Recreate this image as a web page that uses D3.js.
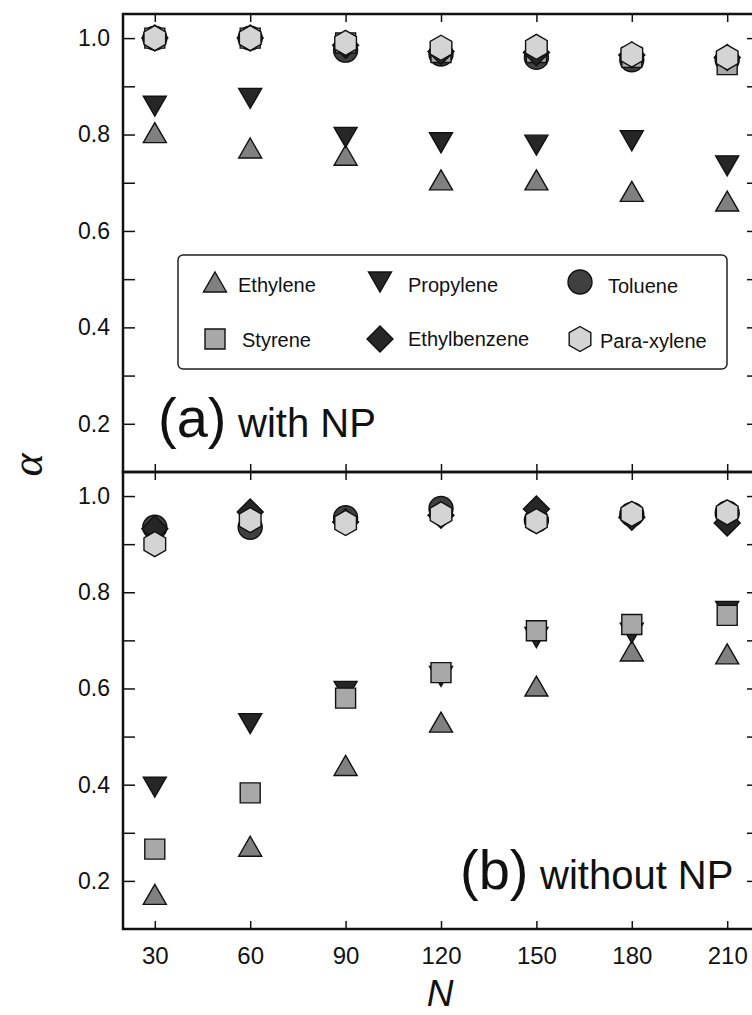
<!DOCTYPE html>
<html>
<head>
<meta charset="utf-8">
<script src="https://cdn.jsdelivr.net/npm/d3@7"></script>
<style>
    body { margin: 0; background: #fff; }
    text { font-family: 'Liberation Sans', Arial, sans-serif; fill: #111; }
</style>
</head>
<body>
<div id="chart"></div>
<script>
// Chain length values on the x axis
const nValues = [30, 60, 90, 120, 150, 180, 210];
const yTickValues = [0.2, 0.3, 0.4, 0.5, 0.6, 0.7, 0.8, 0.9, 1.0];

// (a) with NP
const ethyleneWith = [0.804, 0.772, 0.757, 0.706, 0.706, 0.682, 0.662];
const propyleneWith = [0.859, 0.875, 0.794, 0.783, 0.778, 0.787, 0.735];
const tolueneWith = [1.0, 1.0, 0.975, 0.967, 0.96, 0.955, 0.955];
const styreneWith = [1.0, 1.0, 0.99, 0.97, 0.97, 0.96, 0.945];
const ethylbenzeneWith = [1.0, 1.0, 0.985, 0.972, 0.97, 0.965, 0.96];
const paraxyleneWith = [1.0, 1.0, 0.99, 0.98, 0.982, 0.966, 0.96];

// (b) without NP
const ethyleneWithout = [0.172, 0.272, 0.44, 0.53, 0.605, 0.678, 0.672];
const propyleneWithout = [0.395, 0.527, 0.594, 0.625, 0.706, 0.715, 0.76];
const tolueneWithout = [0.935, 0.935, 0.955, 0.974, 0.95, 0.962, 0.965];
const styreneWithout = [0.266, 0.383, 0.58, 0.633, 0.72, 0.733, 0.752];
const ethylbenzeneWithout = [0.932, 0.967, 0.946, 0.96, 0.973, 0.956, 0.944];
const paraxyleneWithout = [0.90, 0.95, 0.944, 0.962, 0.948, 0.963, 0.966];

const seriesNames = ['Ethylene', 'Propylene', 'Toluene', 'Styrene', 'Ethylbenzene', 'Para-xylene'];

// Marker look for each series
const markerStyle = {
    'Ethylene':     { shape: 'up',      fill: '#808080' },
    'Propylene':    { shape: 'down',    fill: '#262626' },
    'Toluene':      { shape: 'circle',  fill: '#404040' },
    'Styrene':      { shape: 'square',  fill: '#a8a8a8' },
    'Ethylbenzene': { shape: 'diamond', fill: '#262626' },
    'Para-xylene':  { shape: 'hexagon', fill: '#d4d4d4' }
};

function markerPath(shape) {
    switch (shape) {
        case 'up': return 'M0,-10L11.5,10L-11.5,10Z';
        case 'down': return 'M-11.5,-10L11.5,-10L0,10Z';
        case 'square': return 'M-10,-10h20v20h-20Z';
        case 'diamond': return 'M0,-13L13,0L0,13L-13,0Z';
        case 'hexagon': {
            const r = 12.5;
            const pts = d3.range(6).map(i => {
                const a = (-90 + i * 60) * Math.PI / 180;
                return [r * Math.cos(a), r * Math.sin(a)];
            });
            return 'M' + pts.map(p => p.join(',')).join('L') + 'Z';
        }
        default: return d3.symbol(d3.symbolCircle, Math.PI * 12 * 12)();
    }
}

function buildSeries(values) {
    return seriesNames.map((name, i) => ({
        name,
        points: nValues.map((n, j) => ({ n, v: values[i][j] }))
    }));
}

const panels = [
    {
        top: 14, bottom: 472, tag: '(a)', caption: 'with NP',
        tagX: 158, captionX: 238, baseline: 437,
        series: buildSeries([ethyleneWith, propyleneWith, tolueneWith, styreneWith, ethylbenzeneWith, paraxyleneWith])
    },
    {
        top: 472, bottom: 929, tag: '(b)', caption: 'without NP',
        tagX: 460, captionX: 540, baseline: 889,
        series: buildSeries([ethyleneWithout, propyleneWithout, tolueneWithout, styreneWithout, ethylbenzeneWithout, paraxyleneWithout])
    }
];

const width = 752;
const height = 1015;

const svg = d3.select('#chart')
    .append('svg')
    .attr('width', width)
    .attr('height', height)
    .style('background', '#fff');

const x = d3.scaleLinear().domain([20, 220]).range([123, 759]);

panels.forEach((panel, pi) => {
    const y = d3.scaleLinear().domain([0.1, 1.05]).range([panel.bottom, panel.top]);
    const g = svg.append('g');

    // Left axis: inward ticks, labels every 0.2
    g.append('g')
        .attr('transform', `translate(${x.range()[0]},0)`)
        .call(d3.axisLeft(y)
            .tickValues(yTickValues)
            .tickSizeInner(-12)
            .tickSizeOuter(0)
            .tickPadding(13)
            .tickFormat(d => Math.round(d * 10) % 2 === 0 ? d3.format('.1f')(d) : ''))
        .call(a => a.select('.domain').remove())
        .call(a => a.selectAll('line').attr('stroke', '#111').attr('stroke-width', 1.5))
        .call(a => a.selectAll('text')
            .style('font-family', "'Liberation Sans', Arial, sans-serif")
            .style('font-size', '23px')
            .attr('fill', '#111'));

    // Right axis ticks only
    g.append('g')
        .attr('transform', `translate(${x.range()[1]},0)`)
        .call(d3.axisLeft(y).tickValues(yTickValues).tickSize(12).tickFormat(''))
        .call(a => a.select('.domain').remove())
        .call(a => a.selectAll('line').attr('stroke', '#111').attr('stroke-width', 1.5));

    // Top and bottom ticks, pointing into the panel
    g.append('g')
        .attr('transform', `translate(0,${panel.top})`)
        .call(d3.axisTop(x).tickValues(nValues).tickSizeInner(-8).tickSizeOuter(0).tickFormat(''))
        .call(a => a.select('.domain').remove())
        .call(a => a.selectAll('line').attr('stroke', '#111').attr('stroke-width', 1.5));

    const isLast = pi === panels.length - 1;
    g.append('g')
        .attr('transform', `translate(0,${panel.bottom})`)
        .call(d3.axisBottom(x)
            .tickValues(nValues)
            .tickSizeInner(-8)
            .tickSizeOuter(0)
            .tickPadding(18)
            .tickFormat(d => isLast ? d : ''))
        .call(a => a.select('.domain').remove())
        .call(a => a.selectAll('line').attr('stroke', '#111').attr('stroke-width', 1.5))
        .call(a => a.selectAll('text')
            .style('font-family', "'Liberation Sans', Arial, sans-serif")
            .style('font-size', '24px')
            .attr('fill', '#111'));

    // Markers, one group per series
    panel.series.forEach(s => {
        const st = markerStyle[s.name];
        g.append('g')
            .selectAll('path')
            .data(s.points)
            .enter().append('path')
            .attr('d', markerPath(st.shape))
            .attr('transform', d => `translate(${x(d.n)},${y(d.v)})`)
            .attr('fill', st.fill)
            .attr('stroke', '#111')
            .attr('stroke-width', 1.4);
    });

    // Panel frame
    g.append('rect')
        .attr('x', x.range()[0])
        .attr('y', panel.top)
        .attr('width', x.range()[1] - x.range()[0])
        .attr('height', panel.bottom - panel.top)
        .attr('fill', 'none')
        .attr('stroke', '#111')
        .attr('stroke-width', 2.5);

    // Panel caption
    g.append('text')
        .attr('x', panel.tagX)
        .attr('y', panel.baseline)
        .style('font-size', '56px')
        .text(panel.tag);
    g.append('text')
        .attr('x', panel.captionX)
        .attr('y', panel.baseline)
        .style('font-size', '40px')
        .text(panel.caption);
});

// Legend inside panel (a)
const legendItems = [
    { name: 'Ethylene',     sx: 215, tx: 238, sy: 282, ty: 292 },
    { name: 'Propylene',    sx: 380, tx: 408, sy: 282, ty: 292 },
    { name: 'Toluene',      sx: 580, tx: 608, sy: 282, ty: 293 },
    { name: 'Styrene',      sx: 215, tx: 242, sy: 339, ty: 347 },
    { name: 'Ethylbenzene', sx: 380, tx: 408, sy: 339, ty: 346 },
    { name: 'Para-xylene',  sx: 580, tx: 600, sy: 339, ty: 348 }
];

const legend = svg.append('g');
legend.append('rect')
    .attr('x', 178)
    .attr('y', 255)
    .attr('width', 549)
    .attr('height', 114)
    .attr('rx', 5)
    .attr('fill', '#fff')
    .attr('stroke', '#222')
    .attr('stroke-width', 1.5);

const entry = legend.selectAll('g.entry')
    .data(legendItems)
    .enter().append('g')
    .attr('class', 'entry');

entry.append('path')
    .attr('d', d => markerPath(markerStyle[d.name].shape))
    .attr('transform', d => `translate(${d.sx},${d.sy})`)
    .attr('fill', d => markerStyle[d.name].fill)
    .attr('stroke', '#111')
    .attr('stroke-width', 1.4);

entry.append('text')
    .attr('x', d => d.tx)
    .attr('y', d => d.ty)
    .style('font-size', '20px')
    .text(d => d.name);

// Axis titles
svg.append('text')
    .attr('transform', 'translate(42,465) rotate(-90)')
    .attr('text-anchor', 'middle')
    .style('font-family', "'Liberation Serif', 'DejaVu Serif', serif")
    .style('font-style', 'italic')
    .style('font-size', '44px')
    .text('α');

svg.append('text')
    .attr('x', 440)
    .attr('y', 1006)
    .attr('text-anchor', 'middle')
    .style('font-style', 'italic')
    .style('font-size', '37px')
    .text('N');
</script>
</body>
</html>
